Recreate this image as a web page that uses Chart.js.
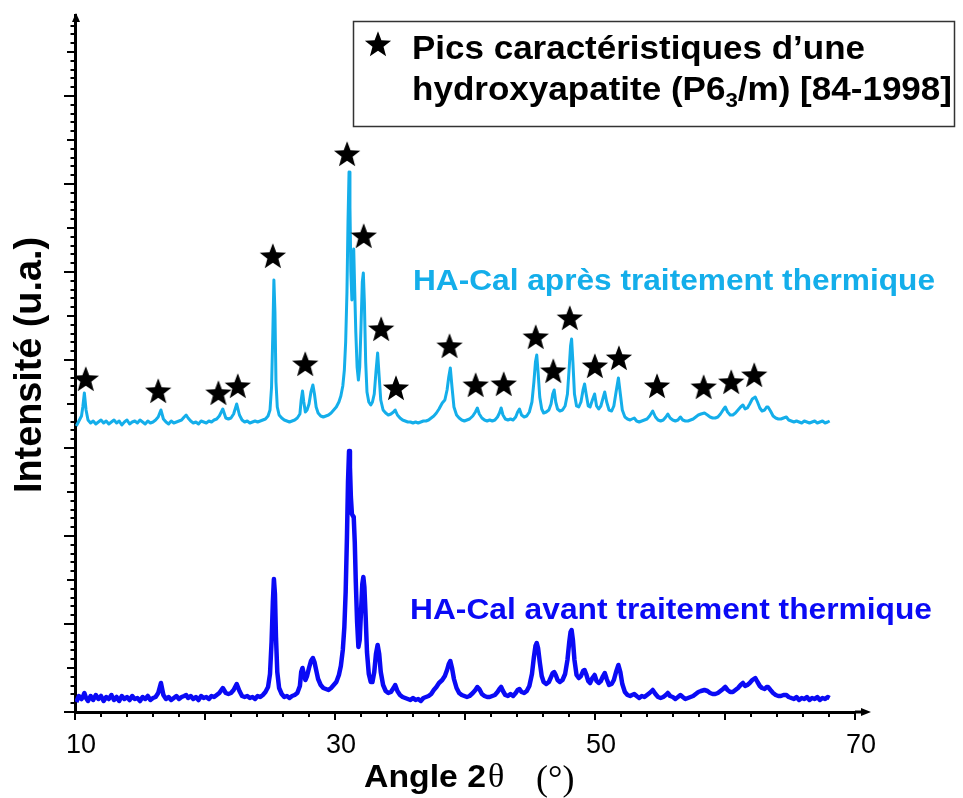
<!DOCTYPE html>
<html><head><meta charset="utf-8">
<script src="https://cdn.jsdelivr.net/npm/chart.js@4.4.1/dist/chart.umd.min.js"></script>
<style>html,body{margin:0;padding:0;background:#fff;}#wrap{width:963px;height:798px;}</style>
</head><body><div id="wrap"><canvas id="c" width="963" height="798"></canvas></div>
<script>
// ---- data (2θ in degrees, intensity in arbitrary units) ----
const angles = [
10.10,10.30,10.50,10.60,10.72,10.85,11.00,11.20,11.40,11.60,
11.80,12.00,12.20,12.40,12.60,12.80,13.00,13.20,13.40,13.60,
13.80,14.00,14.20,14.40,14.60,14.80,15.00,15.20,15.40,15.60,
15.80,16.00,16.20,16.40,16.61,16.80,17.00,17.20,17.40,17.60,
17.80,18.00,18.20,18.40,18.55,18.70,18.90,19.10,19.30,19.50,
19.70,19.90,20.10,20.30,20.50,20.70,20.90,21.10,21.37,21.60,
21.80,22.00,22.20,22.44,22.65,22.85,23.05,23.25,23.45,23.65,
23.85,24.05,24.25,24.45,24.65,24.85,25.00,25.12,25.22,25.30,
25.38,25.46,25.56,25.70,25.90,26.10,26.30,26.50,26.70,26.90,
27.10,27.30,27.40,27.50,27.60,27.72,27.85,28.00,28.15,28.30,
28.42,28.55,28.70,28.90,29.10,29.30,29.50,29.70,29.90,30.10,
30.30,30.45,30.60,30.72,30.82,30.92,31.00,31.08,31.15,31.22,
31.30,31.38,31.44,31.52,31.60,31.70,31.80,31.90,32.00,32.10,
32.18,32.26,32.36,32.46,32.60,32.75,32.88,33.02,33.15,33.28,
33.40,33.52,33.70,33.90,34.10,34.30,34.50,34.63,34.80,35.00,
35.20,35.40,35.60,35.80,36.00,36.20,36.40,36.60,36.80,37.00,
37.20,37.40,37.60,37.80,38.00,38.25,38.45,38.62,38.75,38.87,
39.00,39.15,39.35,39.55,39.75,39.95,40.15,40.35,40.60,40.80,
40.95,41.10,41.30,41.50,41.70,41.90,42.10,42.30,42.50,42.65,
42.78,42.92,43.10,43.30,43.50,43.70,43.90,44.05,44.19,44.35,
44.55,44.75,44.95,45.15,45.30,45.42,45.52,45.62,45.75,45.90,
46.05,46.25,46.45,46.62,46.75,46.86,46.98,47.12,47.30,47.50,
47.70,47.88,48.02,48.12,48.20,48.30,48.42,48.58,48.75,48.92,
49.08,49.20,49.32,49.48,49.62,49.80,49.97,50.12,50.28,50.45,
50.62,50.75,50.90,51.08,51.28,51.45,51.62,51.80,51.95,52.10,
52.30,52.50,52.70,52.85,53.02,53.20,53.40,53.60,53.80,54.00,
54.20,54.44,54.65,54.85,55.05,55.25,55.45,55.60,55.78,55.98,
56.18,56.38,56.57,56.75,56.95,57.15,57.35,57.55,57.75,57.95,
58.15,58.42,58.65,58.85,59.05,59.25,59.45,59.65,59.85,60.02,
60.20,60.40,60.60,60.80,61.00,61.20,61.38,61.55,61.72,61.90,
62.10,62.33,62.50,62.68,62.85,63.05,63.20,63.31,63.50,63.70,
63.90,64.10,64.30,64.50,64.72,64.90,65.10,65.30,65.50,65.70,
65.90,66.10,66.30,66.50,66.70,66.90,67.10,67.30,67.50,67.70,67.90,68.05
];
const cyanAfter = [
286,291,296,305,319,302,292,289,291,288,
290,292,289,291,288,290,292,289,291,287,
290,292,288,290,291,289,292,290,288,291,
289,290,292,295,302,293,290,288,291,289,
290,291,292,295,297,294,291,289,290,288,
291,290,289,291,290,292,293,296,303,294,
293,294,298,308,297,292,290,291,289,290,
291,290,291,292,293,296,302,325,380,432,
400,330,305,297,294,292,291,290,291,292,
294,298,312,321,310,300,302,308,320,327,
318,305,299,296,295,296,297,299,302,305,
310,316,326,342,370,420,490,540,505,440,
412,455,463,420,380,345,332,345,385,430,
439,410,350,320,310,307,310,318,340,359,
335,312,302,299,297,298,300,302,297,294,
292,291,290,290,289,290,289,290,291,291,
292,294,296,299,303,309,312,322,335,344,
325,305,297,294,292,291,292,293,296,300,
304,298,294,292,291,292,291,292,295,299,
304,297,293,292,293,292,295,300,303,297,
295,296,300,310,330,350,357,340,315,303,
299,300,302,308,318,322,310,303,301,302,
306,318,345,366,373,350,318,306,305,310,
322,328,318,306,305,312,318,306,303,306,
314,320,310,302,301,306,320,334,318,302,
295,293,292,293,294,291,290,291,292,293,
296,301,295,292,291,292,295,298,294,292,
291,292,295,292,291,291,292,293,295,297,
298,299,297,295,294,294,295,298,302,305,
300,297,297,299,302,305,307,303,304,308,
313,315,310,304,301,302,305,305,301,296,
294,293,293,294,295,292,291,290,291,290,
289,291,290,289,290,291,289,290,291,289,290,291
];
const blueBefore = [
10,16,13,15,19,14,11,16,12,17,
13,16,11,15,13,17,12,15,11,16,
13,15,12,16,13,14,11,15,13,16,
12,14,15,19,29,17,13,15,12,14,
16,13,15,16,17,14,16,13,15,12,
16,14,15,13,16,15,17,19,24,19,
18,19,22,28,21,16,15,16,14,15,
13,16,15,17,20,25,38,70,110,133,
118,75,40,24,18,15,16,14,16,17,
19,26,40,44,38,32,36,44,51,54,
50,42,33,27,24,23,22,24,27,30,
37,46,62,85,120,175,230,261,245,215,
198,196,195,170,130,90,65,72,100,128,
135,125,95,60,38,30,30,40,58,67,
58,40,27,21,19,20,24,27,21,17,
15,14,13,12,14,12,13,11,14,15,
16,18,22,25,29,32,36,42,48,51,
44,33,24,19,17,16,15,16,19,22,
25,23,18,16,15,15,16,17,20,23,
25,21,17,16,18,16,19,22,23,20,
19,21,26,38,55,66,69,64,50,36,
30,28,30,35,39,40,37,32,30,32,
38,52,70,80,82,72,52,37,34,36,
41,42,38,31,29,34,37,31,29,31,
36,39,33,27,28,32,40,47,40,28,
20,17,16,17,18,16,14,16,15,17,
19,22,18,15,14,15,17,19,16,15,
13,15,17,15,13,14,15,16,18,20,
21,22,21,19,18,18,19,21,23,25,
22,20,20,22,24,27,29,26,27,29,
32,34,30,26,24,23,25,25,22,19,
17,16,16,17,17,15,14,13,15,12,
14,13,15,12,14,13,15,12,14,13,15,14
];
// characteristic hydroxyapatite peak markers
const starAngles = [10.83,16.40,21.03,22.52,25.22,27.71,30.93,32.21,33.55,34.69,38.81,40.82,42.98,45.44,46.79,48.06,49.99,51.84,54.77,58.36,60.48,62.25];
const starHeights = [332,320,318,325,455,347,557,475,382,323,365,326,327,374,340,393,345,353,325,324,329,336];
const xTickLabels = [10, 30, 50, 70];
const seriesNames = ['HA-Cal après traitement thermique', 'HA-Cal avant traitement thermique'];
const legendLines = ['Pics caractéristiques d\u2019une', 'hydroxyapatite (P6', '3', '/m) [84-1998]'];
const xTitle = ['Angle 2', '\u03B8', '(\u00B0)'];
const yTitle = 'Intensit\u00E9 (u.a.)';

// ---- styles ----
const CYAN = '#14AEEA';
const BLUE = '#0A0AF5';
const SANS = '"Liberation Sans", Arial, sans-serif';
const SERIF = '"Liberation Serif", "Times New Roman", serif';

function makeStar(R) {
  const s = Math.ceil(2 * R + 2);
  const cv = document.createElement('canvas');
  cv.width = s; cv.height = s;
  const g = cv.getContext('2d');
  g.fillStyle = '#000';
  g.beginPath();
  for (let i = 0; i < 10; i++) {
    const r = i % 2 ? R * 0.42 : R;
    const a = -Math.PI / 2 + i * Math.PI / 5;
    g.lineTo(s / 2 + r * Math.cos(a), s / 2 + r * Math.sin(a));
  }
  g.closePath(); g.fill();
  return cv;
}
const starImg = makeStar(13.8);

function fitText(ctx, parts, x, y, targetW) {
  let total = 0;
  parts.forEach(p => { ctx.font = p.font; p.w = ctx.measureText(p.t).width; total += p.w; });
  const sx = targetW ? targetW / total : 1;
  ctx.save(); ctx.translate(x, y); ctx.scale(sx, 1);
  let cx = 0;
  parts.forEach(p => { ctx.font = p.font; ctx.fillText(p.t, cx, p.dy || 0); cx += p.w; });
  ctx.restore();
}

const decor = {
  id: 'decor',
  afterDraw(chart) {
    const { ctx, scales: { x, y } } = chart;
    ctx.save();
    ctx.strokeStyle = '#000'; ctx.fillStyle = '#000'; ctx.lineCap = 'butt';
    const axX = x.left, axY = y.bottom;
    // y ticks (minor every 8.8 units, medium every 44, long every 88)
    ctx.lineWidth = 2;
    for (let k = 0; k <= 78; k++) {
      const py = Math.round(y.getPixelForValue(k * 8.8));
      const len = k % 10 === 0 ? 11 : (k % 5 === 0 ? 8 : 4.5);
      ctx.beginPath(); ctx.moveTo(axX - len, py); ctx.lineTo(axX, py); ctx.stroke();
    }
    // x ticks every 2°, longer every 10°
    for (let v = 10; v <= 70; v += 2) {
      const px = Math.round(x.getPixelForValue(v));
      const len = (v % 10 === 0) ? 8 : 5;
      ctx.beginPath(); ctx.moveTo(px, axY); ctx.lineTo(px, axY + len); ctx.stroke();
    }
    // axis arrows
    ctx.lineWidth = 3;
    ctx.beginPath(); ctx.moveTo(x.right, axY); ctx.lineTo(864, axY); ctx.stroke();
    ctx.beginPath(); ctx.moveTo(871, axY); ctx.lineTo(861, axY - 4); ctx.lineTo(861, axY + 4); ctx.closePath(); ctx.fill();
    ctx.beginPath(); ctx.moveTo(axX + 1, y.top - 2); ctx.lineTo(axX - 3, y.top + 7); ctx.lineTo(axX + 5, y.top + 7); ctx.closePath(); ctx.fill();

    // x tick labels
    ctx.textAlign = 'center'; ctx.textBaseline = 'alphabetic';
    ctx.font = '27px ' + SANS;
    xTickLabels.forEach(v => ctx.fillText(String(v), x.getPixelForValue(v) + 6, 753));
    ctx.textAlign = 'left';

    // x title
    fitText(ctx, [{ t: xTitle[0], font: 'bold 32px ' + SANS }], 364, 787, 122);
    ctx.font = '34px ' + SERIF; ctx.fillText(xTitle[1], 488, 787);
    ctx.font = '36px ' + SERIF; ctx.fillText(xTitle[2], 536, 790);

    // y title
    ctx.save(); ctx.translate(41, 493); ctx.rotate(-Math.PI / 2);
    fitText(ctx, [{ t: yTitle, font: 'bold 38px ' + SANS }], 0, 0, 256);
    ctx.restore();

    // series labels
    ctx.fillStyle = CYAN;
    fitText(ctx, [{ t: seriesNames[0], font: 'bold 29px ' + SANS }], 413, 290, 522);
    ctx.fillStyle = BLUE;
    fitText(ctx, [{ t: seriesNames[1], font: 'bold 29px ' + SANS }], 410, 619, 522);

    // legend box
    ctx.fillStyle = '#fff'; ctx.fillRect(353, 21, 602, 105);
    ctx.strokeStyle = '#333'; ctx.lineWidth = 1.5; ctx.strokeRect(353.5, 21.5, 601, 105);
    ctx.drawImage(starImg, 378 - starImg.width / 2, 45 - starImg.height / 2);
    ctx.fillStyle = '#000';
    fitText(ctx, [{ t: legendLines[0], font: 'bold 33px ' + SANS }], 412, 59, 453);
    fitText(ctx, [
      { t: legendLines[1], font: 'bold 33px ' + SANS },
      { t: legendLines[2], font: 'bold 21px ' + SANS, dy: 7 },
      { t: legendLines[3], font: 'bold 33px ' + SANS }
    ], 412, 100, 540);
    ctx.restore();
  }
};

const n = Math.min(angles.length, cyanAfter.length, blueBefore.length);
const cyanData = [], blueData = [];
for (let i = 0; i < n; i++) {
  cyanData.push({ x: angles[i], y: cyanAfter[i] });
  blueData.push({ x: angles[i], y: blueBefore[i] });
}
const starData = starAngles.map((a, i) => ({ x: a, y: starHeights[i] }));

new Chart(document.getElementById('c'), {
  type: 'scatter',
  data: {
    datasets: [
      { label: 'Pics HA', data: starData, pointStyle: starImg, pointRadius: 14, showLine: false, order: 0 },
      { label: seriesNames[0], data: cyanData, showLine: true, borderColor: CYAN, backgroundColor: CYAN,
        borderWidth: 3, pointRadius: 0, tension: 0, borderJoinStyle: 'round', order: 1 },
      { label: seriesNames[1], data: blueData, showLine: true, borderColor: BLUE, backgroundColor: BLUE,
        borderWidth: 4.5, pointRadius: 0, tension: 0, borderJoinStyle: 'round', order: 2 }
    ]
  },
  options: {
    responsive: false, devicePixelRatio: 1, animation: false,
    layout: { padding: { left: 75, right: 108, top: 15, bottom: 86 } },
    plugins: { legend: { display: false }, tooltip: { enabled: false } },
    scales: {
      x: { type: 'linear', min: 10, max: 70, ticks: { display: false },
           grid: { display: false, drawTicks: false }, border: { display: true, color: '#000', width: 3 } },
      y: { type: 'linear', min: 0, max: 697, ticks: { display: false },
           grid: { display: false, drawTicks: false }, border: { display: true, color: '#000', width: 3 } }
    }
  },
  plugins: [decor]
});
</script></body></html>
